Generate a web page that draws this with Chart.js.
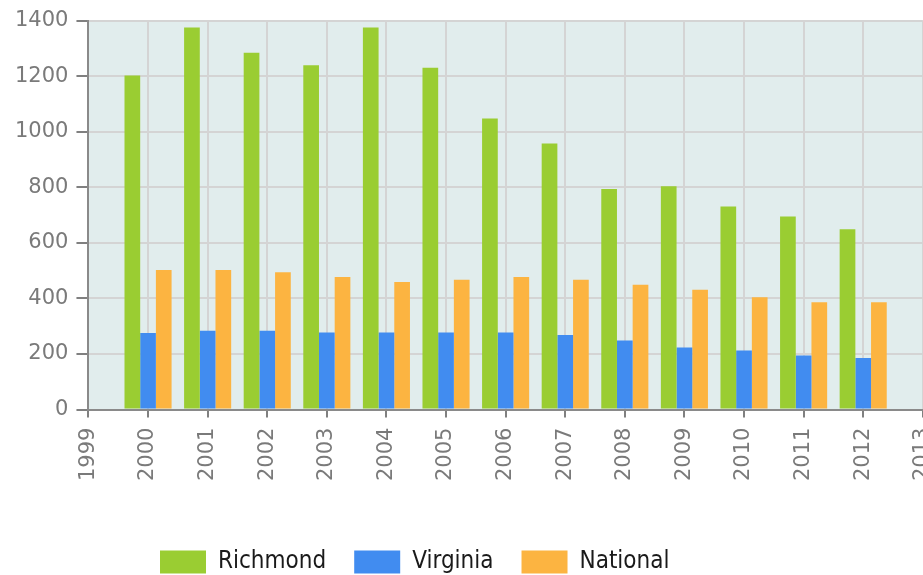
<!DOCTYPE html>
<html>
<head>
<meta charset="utf-8">
<script src="https://cdn.jsdelivr.net/npm/chart.js@4/dist/chart.umd.min.js"></script>
<style>
  html, body { margin: 0; padding: 0; background: #fff; overflow: hidden; }
  #wrap { width: 958px; height: 584px; }
</style>
</head>
<body>
<div id="wrap"><canvas id="myChart"></canvas></div>
<script>
const years = [2000, 2001, 2002, 2003, 2004, 2005, 2006, 2007, 2008, 2009, 2010, 2011, 2012];
const richmond = [1202, 1375, 1284, 1239, 1375, 1230, 1048, 958, 794, 804, 731, 695, 649];
const virginia = [276, 284, 284, 277, 277, 277, 277, 268, 249, 223, 213, 195, 186];
const national = [502, 502, 494, 477, 459, 467, 477, 467, 449, 431, 404, 386, 386];

const toPoints = (vals) => years.map((yr, i) => ({x: yr, y: vals[i]}));

const plotBg = {
    id: 'plot_bg',
    beforeDraw: (chart) => {
        const {ctx, chartArea: a} = chart;
        ctx.save();
        ctx.fillStyle = '#e1eded';
        ctx.fillRect(a.left, a.top, a.right - a.left, a.bottom - a.top);
        ctx.restore();
    },
    afterLayout: (chart) => {
        // legend sits left of centre in the original, first box at x=160
        const lg = chart.legend;
        lg.left = 0;
        lg.right = 2 * 160 - 28 + lg.lineWidths[0];
    }
};

const tickFont = {family: 'DejaVu Sans', size: 21};

let ctx = document.getElementById('myChart').getContext('2d');
let myChart = new Chart(ctx, {
    type: 'bar',
    data: {
        datasets: [{
            label: 'Richmond',
            data: toPoints(richmond),
            backgroundColor: '#9acd32'
        }, {
            label: 'Virginia',
            data: toPoints(virginia),
            backgroundColor: '#418cf0'
        }, {
            label: 'National',
            data: toPoints(national),
            backgroundColor: '#fcb441'
        }]
    },
    options: {
        responsive: true,
        maintainAspectRatio: false,
        animation: false,
        categoryPercentage: 0.79,
        barPercentage: 1,
        layout: {padding: {left: 7, top: 10, right: 0, bottom: 0}},
        scales: {
            x: {
                type: 'linear',
                min: 1999,
                max: 2013,
                offset: false,
                grid: {offset: false, color: '#d4d4d4', lineWidth: 2, tickColor: '#808080', tickLength: 8},
                border: {color: '#8a8a8a', width: 2},
                ticks: {
                    stepSize: 1,
                    maxRotation: 90,
                    minRotation: 90,
                    padding: 10,
                    color: '#7a7a7a',
                    font: tickFont,
                    callback: (v) => String(v)
                },
                afterFit: (scale) => { scale.height += 31; }
            },
            y: {
                min: 0,
                max: 1400,
                grid: {color: '#d4d4d4', lineWidth: 2, tickColor: '#808080', tickLength: 12},
                border: {color: '#8a8a8a', width: 2},
                ticks: {
                    stepSize: 200,
                    padding: 8,
                    color: '#7a7a7a',
                    font: tickFont,
                    callback: (v) => String(v)
                }
            }
        },
        plugins: {
            legend: {
                position: 'bottom',
                labels: {
                    boxWidth: 46,
                    boxHeight: 23,
                    padding: 28,
                    color: '#1a1a1a',
                    font: {family: "'DejaVu Sans Condensed', sans-serif", size: 24}
                }
            },
            tooltip: {enabled: false}
        }
    },
    plugins: [plotBg]
});
</script>
</body>
</html>
